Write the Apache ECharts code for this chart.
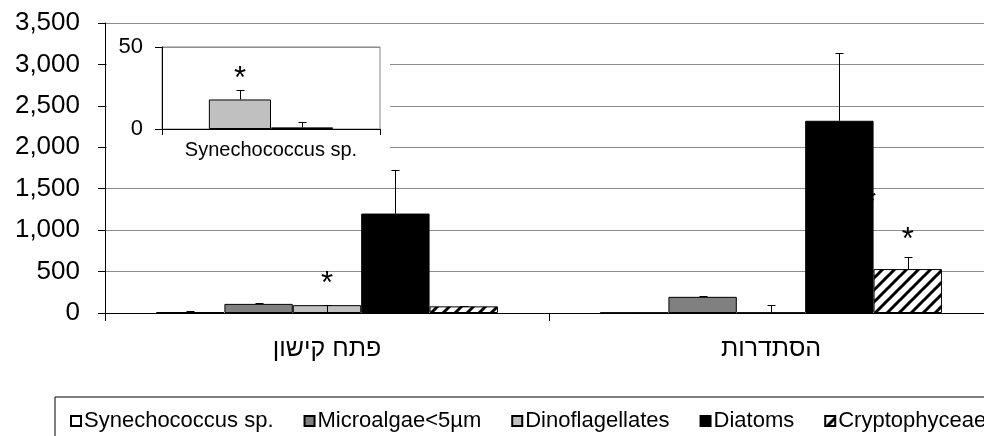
<!DOCTYPE html>
<html>
<head>
<meta charset="utf-8">
<script src="https://cdn.jsdelivr.net/npm/echarts@6/dist/echarts.min.js"></script>
<style>
  html, body { margin: 0; padding: 0; background: #fff; }
  #main { width: 984px; height: 436px; }
</style>
</head>
<body>
<div id="main"></div>
<script>
// sites (x categories)
var categories = ['פתח קישון', 'הסתדרות'];
var seriesNames = ['Synechococcus sp.', 'Microalgae<5µm', 'Dinoflagellates', 'Diatoms', 'Cryptophyceae'];

// means per site
var synechococcus = [12, 5];
var microalgae = [110, 195];
var dinoflagellates = [95, 5];
var diatoms = [1200, 2320];
var cryptophyceae = [80, 530];

// error bars (up / down)
var synechococcusErr = [8, 0];
var microalgaeErr = [5, 8];
var dinoflagellatesErr = [0, 88];
var dinoflagellatesErrDown = [95, 0];
var diatomsErr = [520, 815];
var cryptophyceaeErr = [0, 140];

var yTicks = [0, 500, 1000, 1500, 2000, 2500, 3000, 3500];

// significance marks: [site, bar index, y value]
var stars = [[0, 2, 434], [1, 4, 965], [1, 3.45, 1412]];

// inset: Synechococcus sp. on a 0-50 scale
var insetCategories = ['Synechococcus sp.'];
var insetSite1 = [18];
var insetSite2 = [1];
var insetSite1Err = [6];
var insetSite2Err = [3];
var insetStars = [[0, 0, 34.5]];

var FONT = 'Liberation Sans, Arial, DejaVu Sans, sans-serif';

// hatch for Cryptophyceae
var hatch = document.createElement('canvas');
hatch.width = 12; hatch.height = 12;
var g = hatch.getContext('2d');
g.fillStyle = '#fff';
g.fillRect(0, 0, 12, 12);
g.strokeStyle = '#000';
g.lineWidth = 3;
g.beginPath();
g.moveTo(-3, 15); g.lineTo(15, -3);
g.moveTo(-3, 3); g.lineTo(3, -3);
g.moveTo(9, 15); g.lineTo(15, 9);
g.stroke();

var fills = ['#ffffff', '#808080', '#c0c0c0', '#000000', { image: hatch, repeat: 'repeat' }];
var values = [synechococcus, microalgae, dinoflagellates, diatoms, cryptophyceae];
var ups = [synechococcusErr, microalgaeErr, dinoflagellatesErr, diatomsErr, cryptophyceaeErr];
var downs = [[0, 0], [0, 0], dinoflagellatesErrDown, [0, 0], [0, 0]];

function barX(api, c, k, nBars, gap) {
  var band = api.size([1, 0])[0];
  var used = band * (1 - gap);
  var center = api.coord([c, 0])[0];
  return center - used / 2 + (k + 0.5) * used / nBars;
}

function errorBars(nBars, gap) {
  return function (params, api) {
    var x = Math.round(barX(api, api.value(0), api.value(1), nBars, gap)) + 0.5;
    var lo = api.coord([api.value(0), api.value(2)])[1];
    var hi = Math.round(api.coord([api.value(0), api.value(3)])[1]) + 0.5;
    return {
      type: 'group',
      children: [
        { type: 'line', shape: { x1: x, y1: lo, x2: x, y2: hi }, style: { stroke: '#000', lineWidth: 1 } },
        { type: 'line', shape: { x1: x - 4, y1: hi, x2: x + 4, y2: hi }, style: { stroke: '#000', lineWidth: 1 } }
      ]
    };
  };
}

function starMarks(nBars, gap) {
  return function (params, api) {
    var x = barX(api, api.value(0), api.value(1), nBars, gap);
    var y = api.coord([api.value(0), api.value(2)])[1];
    return {
      type: 'text',
      x: x, y: y + 7,
      style: { text: '*', fontSize: 31, fontFamily: FONT, fill: '#000', align: 'center', verticalAlign: 'middle' }
    };
  };
}

var errData = [];
values.forEach(function (arr, k) {
  arr.forEach(function (v, c) {
    errData.push([c, k, v - downs[k][c], v + ups[k][c]]);
  });
});
var insetErrData = [
  [0, 0, insetSite1[0], insetSite1[0] + insetSite1Err[0]],
  [0, 1, insetSite2[0], insetSite2[0] + insetSite2Err[0]]
];

var series = seriesNames.map(function (name, k) {
  return {
    name: name,
    type: 'bar',
    xAxisIndex: 0, yAxisIndex: 0,
    data: values[k],
    barGap: 0,
    barCategoryGap: '23%',
    itemStyle: { color: fills[k], borderColor: '#000', borderWidth: 1 },
    emphasis: { disabled: true }
  };
});
series.push({
  name: 'err', type: 'custom', xAxisIndex: 0, yAxisIndex: 0,
  renderItem: errorBars(5, 0.23), data: errData, encode: { x: 0, y: 3 }, z: 3, silent: true
});
series.push({
  name: 'stars', type: 'custom', xAxisIndex: 0, yAxisIndex: 0,
  renderItem: starMarks(5, 0.23), data: stars, encode: { x: 0, y: 2 }, z: 1, silent: true
});
series.push({
  name: 'inset-a', type: 'bar', xAxisIndex: 1, yAxisIndex: 1, data: insetSite1,
  barGap: 0, barCategoryGap: '43%', z: 6,
  itemStyle: { color: '#c0c0c0', borderColor: '#000', borderWidth: 1 }
});
series.push({
  name: 'inset-b', type: 'bar', xAxisIndex: 1, yAxisIndex: 1, data: insetSite2,
  barGap: 0, barCategoryGap: '43%', z: 6,
  itemStyle: { color: '#ffffff', borderColor: '#000', borderWidth: 1 }
});
series.push({
  name: 'inset-err', type: 'custom', xAxisIndex: 1, yAxisIndex: 1,
  renderItem: errorBars(2, 0.43), data: insetErrData, encode: { x: 0, y: 3 }, z: 7, silent: true
});
series.push({
  name: 'inset-stars', type: 'custom', xAxisIndex: 1, yAxisIndex: 1,
  renderItem: starMarks(2, 0.43), data: insetStars, encode: { x: 0, y: 2 }, z: 7, silent: true
});

var myChart = echarts.init(document.getElementById('main'));
myChart.setOption({
  animation: false,
  backgroundColor: '#fff',
  textStyle: { fontFamily: FONT },
  grid: [
    { left: 105, top: 23, right: -9, bottom: 123, outerBoundsMode: 'none' },
    { left: 162, top: 47, width: 218, height: 82, outerBoundsMode: 'none', show: true,
      borderColor: '#888', borderWidth: 1, backgroundColor: 'transparent', z: 3 }
  ],
  graphic: [
    { type: 'rect', z: 1, shape: { x: 107, y: 30, width: 283, height: 140 }, style: { fill: '#fff' } }
  ],
  legend: {
    data: seriesNames,
    left: 55, top: 397, width: 1200,
    padding: [13, 8, 20, 15],
    borderColor: '#000', borderWidth: 1,
    itemGap: 30, itemWidth: 10, itemHeight: 10,
    icon: 'rect',
    itemStyle: { borderColor: '#000', borderWidth: 2 },
    textStyle: { fontSize: 22, color: '#000', fontFamily: FONT, padding: [0, 0, 0, -2] },
    selectedMode: false
  },
  xAxis: [
    {
      type: 'category', gridIndex: 0, data: categories,
      axisLine: { lineStyle: { color: '#000', width: 1 } },
      axisTick: { show: true, length: 8, lineStyle: { color: '#000' } },
      axisLabel: { fontSize: 25, color: '#000', margin: 24, fontFamily: FONT }
    },
    {
      type: 'category', gridIndex: 1, data: insetCategories,
      axisLine: { lineStyle: { color: '#000', width: 1 } },
      axisTick: { show: true, length: 6, lineStyle: { color: '#000' } },
      axisLabel: { fontSize: 20, color: '#000', margin: 11, fontFamily: FONT },
      z: 5
    }
  ],
  yAxis: [
    {
      type: 'value', gridIndex: 0, min: 0, max: 3500, interval: 500,
      axisLine: { show: true, lineStyle: { color: '#000', width: 1 } },
      axisTick: { show: true, length: 7, lineStyle: { color: '#000' } },
      splitLine: { lineStyle: { color: '#8c8c8c', width: 1 } },
      axisLabel: {
        fontSize: 26, color: '#000', margin: 25, fontFamily: FONT,
        formatter: function (v) { return yTicks.indexOf(v) >= 0 ? v.toLocaleString('en-US') : ''; }
      }
    },
    {
      type: 'value', gridIndex: 1, min: 0, max: 50, interval: 50,
      axisLine: { show: true, lineStyle: { color: '#000', width: 1 } },
      axisTick: { show: true, length: 7, lineStyle: { color: '#000' } },
      splitLine: { lineStyle: { color: '#8c8c8c', width: 1 } },
      axisLabel: { fontSize: 22, color: '#000', margin: 19, fontFamily: FONT },
      z: 5
    }
  ],
  series: series
});
</script>
</body>
</html>
